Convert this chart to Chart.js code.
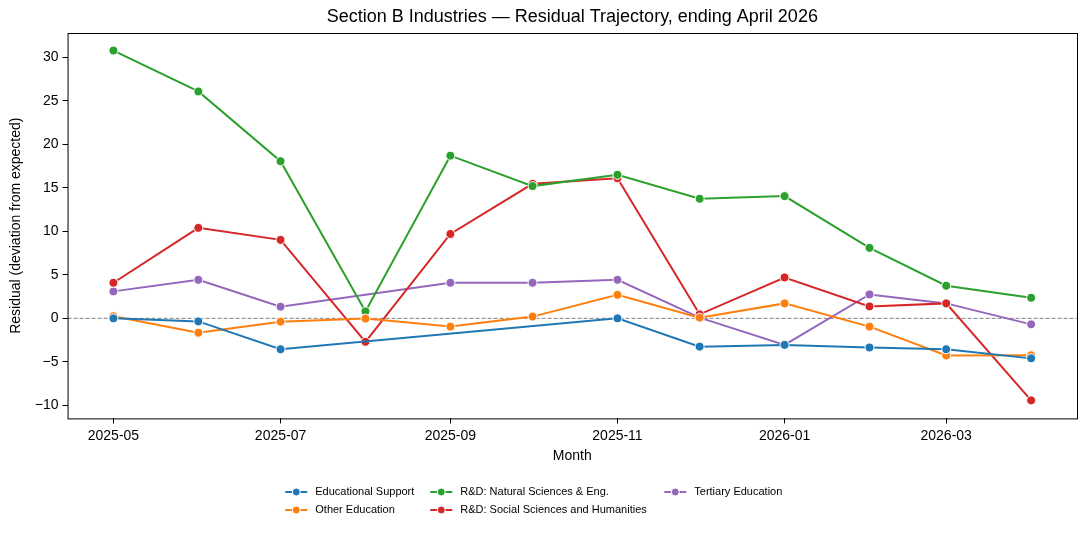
<!DOCTYPE html>
<html lang="en">
<head>
    <meta charset="UTF-8">
    <title>Section B Industries — Residual Trajectory</title>
    <script src="https://cdn.jsdelivr.net/npm/chart.js@4.4.1/dist/chart.umd.min.js"></script>
    <style>
        * { margin: 0; padding: 0; box-sizing: border-box; }
        body { background: #ffffff; font-family: 'Liberation Sans', Arial, sans-serif; }
        .chart-box { position: relative; width: 1087px; height: 533px; }
    </style>
</head>
<body>
    <div class="chart-box">
        <canvas id="residualChart"></canvas>
    </div>

    <script>
        // months on the x axis
        const months = ['2025-05', '2025-06', '2025-07', '2025-08', '2025-09', '2025-10',
                        '2025-11', '2025-12', '2026-01', '2026-02', '2026-03', '2026-04'];
        const tickMonths = ['2025-05', '2025-07', '2025-09', '2025-11', '2026-01', '2026-03'];
        const yTicks = [-10, -5, 0, 5, 10, 15, 20, 25, 30];

        // residuals per series (null = no value that month)
        const educationalSupport = [0.0, -0.35, -3.55, null, null, null, 0.0, -3.25, -3.05, -3.35, -3.55, -4.6];
        const otherEducation = [0.25, -1.65, -0.38, -0.03, -0.95, 0.2, 2.7, 0.08, 1.72, -0.95, -4.27, -4.25];
        const rdNatural = [30.78, 26.08, 18.06, 0.8, 18.7, 15.2, 16.5, 13.75, 14.05, 8.1, 3.75, 2.37];
        const rdSocial = [4.09, 10.4, 9.02, -2.7, 9.7, 15.46, 16.1, 0.46, 4.7, 1.37, 1.72, -9.43];
        const tertiary = [3.1, 4.43, 1.34, null, 4.09, 4.09, 4.43, 0.08, -3.05, 2.75, 1.72, -0.69];

        const seriesNames = ['Educational Support', 'Other Education', 'R&D: Natural Sciences & Eng.',
                             'R&D: Social Sciences and Humanities', 'Tertiary Education'];
        const seriesValues = [educationalSupport, otherEducation, rdNatural, rdSocial, tertiary];
        const seriesColors = ['#1f77b4', '#ff7f0e', '#2ca02c', '#d62728', '#9467bd'];

        const FONT = "'Liberation Sans', Arial, sans-serif";

        function toDay(m) {
            const [y, mo] = m.split('-').map(Number);
            return Date.UTC(y, mo - 1, 1) / 86400000;
        }

        const firstDay = toDay(months[0]);
        const lastDay = toDay(months[months.length - 1]);
        const pad = (lastDay - firstDay) * 0.05;

        const datasets = seriesNames.map((name, i) => ({
            label: name,
            data: months.map((m, j) => ({ x: toDay(m), y: seriesValues[i][j] })),
            borderColor: seriesColors[i],
            backgroundColor: seriesColors[i],
            borderWidth: 2,
            pointRadius: 4.5,
            pointBorderColor: '#ffffff',
            pointBorderWidth: 1,
            spanGaps: true,
            tension: 0
        }));

        // frame, zero line, title and legend
        const decorations = {
            id: 'decorations',
            beforeDatasetsDraw(chart) {
                const { ctx, chartArea: a, scales } = chart;
                const y0 = scales.y.getPixelForValue(0);
                ctx.save();
                ctx.strokeStyle = '#808080';
                ctx.lineWidth = 1;
                ctx.setLineDash([4, 2]);
                ctx.beginPath();
                ctx.moveTo(a.left, y0);
                ctx.lineTo(a.right, y0);
                ctx.stroke();
                ctx.restore();
            },
            afterDraw(chart) {
                const { ctx, chartArea: a } = chart;
                ctx.save();
                ctx.strokeStyle = '#000';
                ctx.lineWidth = 1;
                ctx.strokeRect(a.left + 0.5, a.top + 0.5, a.right - a.left, a.bottom - a.top);

                const cx = (a.left + a.right) / 2;
                ctx.fillStyle = '#000';
                ctx.font = '18px ' + FONT;
                ctx.textAlign = 'center';
                ctx.textBaseline = 'middle';
                ctx.fillText('Section B Industries \u2014 Residual Trajectory, ending April 2026', cx, 17);

                // legend: 3 columns, column-major
                const colX = [cx - 287, cx - 142, cx + 92];
                const rowY = [492, 510];
                ctx.font = '11px ' + FONT;
                ctx.textAlign = 'left';
                seriesNames.forEach((name, i) => {
                    const x = colX[Math.floor(i / 2)];
                    const y = rowY[i % 2];
                    ctx.strokeStyle = seriesColors[i];
                    ctx.lineWidth = 2;
                    ctx.beginPath();
                    ctx.moveTo(x, y);
                    ctx.lineTo(x + 22, y);
                    ctx.stroke();
                    ctx.beginPath();
                    ctx.arc(x + 11, y, 4, 0, Math.PI * 2);
                    ctx.fillStyle = seriesColors[i];
                    ctx.fill();
                    ctx.strokeStyle = '#fff';
                    ctx.lineWidth = 1;
                    ctx.stroke();
                    ctx.fillStyle = '#000';
                    ctx.fillText(name, x + 30, y);
                });
                ctx.restore();
            }
        };

        new Chart(document.getElementById('residualChart'), {
            type: 'line',
            data: { datasets: datasets },
            options: {
                responsive: true,
                maintainAspectRatio: false,
                animation: false,
                layout: { padding: { top: 33, left: 8, right: 10, bottom: 68 } },
                plugins: {
                    legend: { display: false },
                    title: { display: false },
                    tooltip: { enabled: false }
                },
                scales: {
                    x: {
                        type: 'linear',
                        min: firstDay - pad,
                        max: lastDay + pad,
                        afterBuildTicks(scale) {
                            scale.ticks = tickMonths.map(m => ({ value: toDay(m) }));
                        },
                        ticks: {
                            color: '#000',
                            padding: 4,
                            maxRotation: 0,
                            autoSkip: false,
                            font: { family: FONT, size: 14 },
                            callback: function (value) {
                                const m = tickMonths.find(t => toDay(t) === value);
                                return m || '';
                            }
                        },
                        grid: { drawOnChartArea: false, drawTicks: true, tickLength: 5, color: '#000' },
                        border: { display: false },
                        title: { display: true, text: 'Month', color: '#000', font: { family: FONT, size: 14 }, padding: { top: 0, bottom: 0 } }
                    },
                    y: {
                        min: -11.5,
                        max: 32.8,
                        afterBuildTicks(scale) {
                            scale.ticks = yTicks.map(v => ({ value: v }));
                        },
                        ticks: {
                            color: '#000',
                            padding: 4,
                            font: { family: FONT, size: 14 },
                            callback: v => (v < 0 ? '\u2212' + Math.abs(v) : String(v))
                        },
                        grid: { drawOnChartArea: false, drawTicks: true, tickLength: 5, color: '#000' },
                        border: { display: false },
                        title: { display: true, text: 'Residual (deviation from expected)', color: '#000', font: { family: FONT, size: 14 }, padding: { top: 0, bottom: 6 } }
                    }
                }
            },
            plugins: [decorations]
        });
    </script>
</body>
</html>
